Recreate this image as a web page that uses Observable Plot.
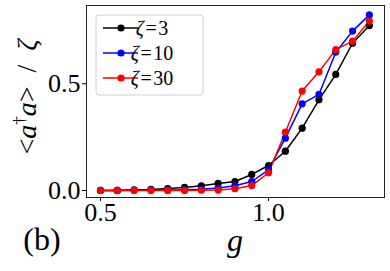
<!DOCTYPE html>
<html><head><meta charset="utf-8">
<script src="https://cdn.jsdelivr.net/npm/d3@7"></script>
<script src="https://cdn.jsdelivr.net/npm/@observablehq/plot@0.6"></script>
<style>body{margin:0;background:#fff} svg text{font-family:"Liberation Serif","Times New Roman",serif}</style>
</head><body><div id="chart"></div>
<script>
const g = [0.5,0.55,0.6,0.65,0.7,0.75,0.8,0.85,0.9,0.95,1.0,1.05,1.1,1.15,1.2,1.25,1.3];
const zeta3  = [0.0,0.0,0.003,0.005,0.009,0.014,0.022,0.033,0.042,0.075,0.117,0.184,0.292,0.425,0.544,0.69,0.773];
const zeta10 = [0.0,0.0,0.001,0.002,0.002,0.003,0.006,0.011,0.022,0.042,0.097,0.245,0.406,0.45,0.648,0.747,0.823];
const zeta30 = [0.0,0.0,0.0,0.0,0.0,0.0,0.001,0.002,0.008,0.023,0.083,0.273,0.466,0.556,0.66,0.70,0.794];
const seriesNames = ["ζ=3","ζ=10","ζ=30"];
const seriesColors = ["#000000","#0000ff","#ff0000"];
const xTicks = [0.5,1.0];
const yTicks = [0.0,0.5];

const allSeries = [zeta3, zeta10, zeta30];
const data = [];
allSeries.forEach((vals,i)=>vals.forEach((v,j)=>data.push({g:g[j], v, s:seriesNames[i]})));

const FONT = "Liberation Serif";
const plot = Plot.plot({
  width: 390, height: 271,
  marginLeft: 86, marginRight: 6, marginTop: 5, marginBottom: 74,
  x: {domain: [0.4583, 1.345]},
  y: {domain: [-0.033, 0.867]},
  color: {domain: seriesNames, range: seriesColors},
  marks: [
    Plot.axisX({ticks: xTicks, tickFormat: d3.format(".1f"), label: null, tickSize: 4, tickPadding: 1,
      fontSize: 26, fontFamily: FONT, textStroke: "none"}),
    Plot.axisY({ticks: yTicks, tickFormat: d3.format(".1f"), label: null, tickSize: 4, tickPadding: 2,
      fontSize: 26, fontFamily: FONT}),
    Plot.frame({stroke: "#222", strokeWidth: 1}),
    Plot.line(data, {x: "g", y: "v", z: "s", stroke: "s", strokeWidth: 1.5}),
    Plot.dot(data, {x: "g", y: "v", fill: "s", r: 3.6})
  ]
});
document.getElementById("chart").appendChild(plot);

const svg = d3.select(plot);
svg.selectAll("g[aria-label$='tick label']")
  .style("font-size","26px").style("font-family","'Liberation Serif', serif")
  .selectAll("text").style("font-size","26px").style("font-family","'Liberation Serif', serif");
// Legend
const lg = svg.append("g");
lg.append("rect").attr("x",96).attr("y",15).attr("width",107).attr("height",80).attr("rx",3)
  .attr("fill","#fff").attr("fill-opacity",0.8).attr("stroke","#d0d0d0").attr("stroke-width",1);
seriesNames.forEach((name,i)=>{
  const y = 28 + i*25;
  lg.append("line").attr("x1",103).attr("x2",138).attr("y1",y).attr("y2",y)
    .attr("stroke",seriesColors[i]).attr("stroke-width",1.5);
  lg.append("circle").attr("cx",121).attr("cy",y).attr("r",3.6).attr("fill",seriesColors[i]);
  const t = lg.append("text").attr("x",152).attr("y",y).attr("dy","0.35em").style("font-size","20px");
  t.append("tspan").style("font-style","italic").text("ζ");
  t.append("tspan").text("\u200A=\u200A" + name.split("=")[1]);
});
// Axis labels
const yl = svg.append("text").attr("transform","translate(36,97) rotate(-90)")
  .attr("text-anchor","middle").style("font-size","28px");
yl.append("tspan").text("<");
yl.append("tspan").style("font-style","italic").text("a");
yl.append("tspan").style("font-size","17px").attr("dy",-11).text("†");
yl.append("tspan").style("font-style","italic").attr("dy",11).text("a");
yl.append("tspan").text(">\u2002/\u2002");
yl.append("tspan").style("font-style","italic").text("ζ");
svg.append("text").attr("x",235).attr("y",251).attr("text-anchor","middle")
  .style("font-size","32px").style("font-style","italic").text("g");
svg.append("text").attr("x",42).attr("y",250).style("font-size","32px").text("(b)");
</script></body></html>
